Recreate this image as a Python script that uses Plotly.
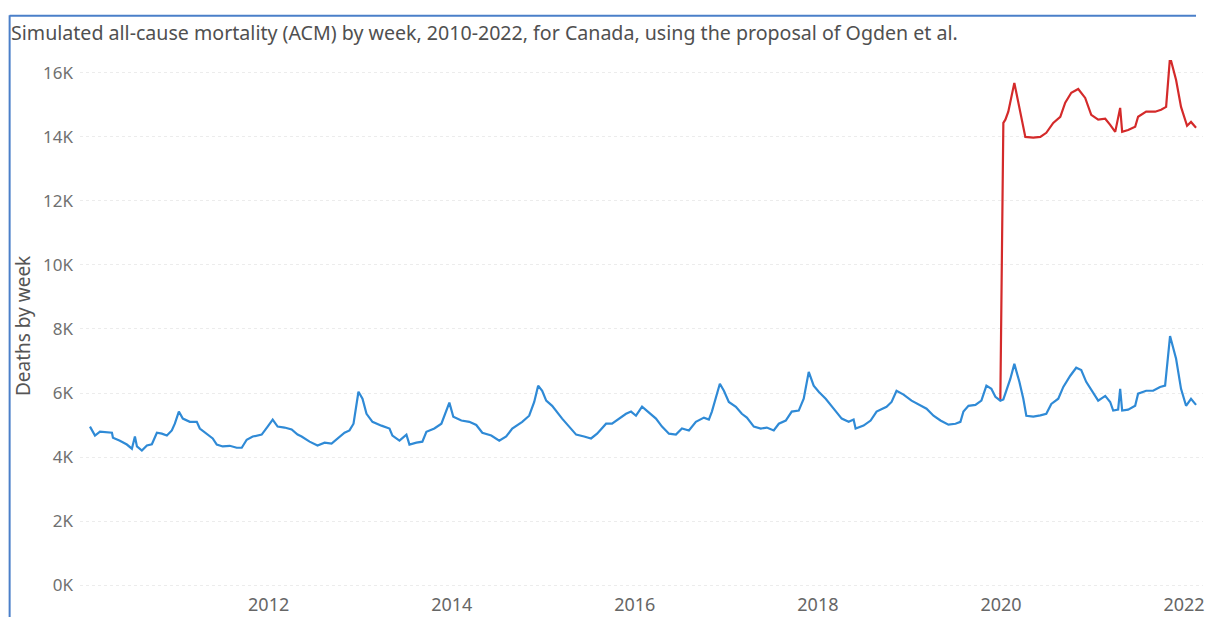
import plotly.graph_objects as go

# decimal-year time stamps and weekly deaths
blue_t = [2010.048, 2010.103, 2010.157, 2010.233, 2010.288, 2010.299, 2010.375, 2010.451, 2010.506, 2010.539,
          2010.561, 2010.615, 2010.670, 2010.724, 2010.779, 2010.833, 2010.888, 2010.942, 2010.975, 2011.019,
          2011.062, 2011.139, 2011.215, 2011.248, 2011.324, 2011.389, 2011.433, 2011.498, 2011.575, 2011.651,
          2011.706, 2011.760, 2011.826, 2011.924, 2011.989, 2012.044, 2012.098, 2012.174, 2012.251, 2012.316,
          2012.360, 2012.447, 2012.534, 2012.611, 2012.687, 2012.752, 2012.829, 2012.883, 2012.927, 2012.981,
          2013.025, 2013.069, 2013.134, 2013.232, 2013.320, 2013.352, 2013.429, 2013.505, 2013.538, 2013.614,
          2013.679, 2013.723, 2013.810, 2013.887, 2013.941, 2013.974, 2014.017, 2014.105, 2014.192, 2014.268,
          2014.334, 2014.432, 2014.519, 2014.595, 2014.661, 2014.704, 2014.770, 2014.846, 2014.901, 2014.944,
          2014.988, 2015.032, 2015.097, 2015.206, 2015.282, 2015.359, 2015.446, 2015.522, 2015.588, 2015.686,
          2015.751, 2015.849, 2015.904, 2015.959, 2016.013, 2016.079, 2016.155, 2016.231, 2016.297, 2016.373,
          2016.449, 2016.515, 2016.591, 2016.667, 2016.755, 2016.809, 2016.842, 2016.929, 2016.973, 2017.027,
          2017.104, 2017.169, 2017.224, 2017.300, 2017.376, 2017.442, 2017.518, 2017.573, 2017.649, 2017.714,
          2017.791, 2017.845, 2017.900, 2017.954, 2018.009, 2018.085, 2018.172, 2018.260, 2018.336, 2018.390,
          2018.412, 2018.499, 2018.576, 2018.641, 2018.750, 2018.805, 2018.859, 2018.936, 2019.023, 2019.121,
          2019.187, 2019.263, 2019.339, 2019.426, 2019.503, 2019.557, 2019.590, 2019.645, 2019.721, 2019.786,
          2019.841, 2019.895, 2019.939, 2019.993, 2020.026, 2020.102, 2020.146, 2020.201, 2020.244, 2020.277,
          2020.353, 2020.430, 2020.495, 2020.550, 2020.626, 2020.681, 2020.757, 2020.822, 2020.877, 2020.931,
          2021.008, 2021.062, 2021.139, 2021.193, 2021.226, 2021.280, 2021.302, 2021.324, 2021.389, 2021.466,
          2021.498, 2021.586, 2021.662, 2021.738, 2021.793, 2021.847, 2021.913, 2021.967, 2022.022, 2022.076,
          2022.131]
blue_v = [4950, 4670, 4790, 4760, 4760, 4600, 4510, 4390, 4260, 4640,
          4330, 4200, 4360, 4400, 4760, 4730, 4670, 4830, 5040, 5420,
          5200, 5100, 5100, 4890, 4730, 4580, 4390, 4330, 4350, 4290,
          4290, 4540, 4640, 4700, 4950, 5170, 4950, 4920, 4860, 4700,
          4640, 4480, 4360, 4450, 4420, 4580, 4760, 4830, 5040, 6040,
          5820, 5350, 5100, 4980, 4890, 4670, 4510, 4700, 4390, 4450,
          4480, 4790, 4890, 5040, 5420, 5700, 5260, 5140, 5100, 5000,
          4760, 4670, 4510, 4640, 4890, 4980, 5100, 5290, 5720, 6230,
          6070, 5760, 5600, 5200, 4950, 4700, 4640, 4580, 4730, 5040,
          5040, 5230, 5350, 5420, 5290, 5570, 5380, 5200, 4950, 4730,
          4700, 4890, 4830, 5100, 5230, 5170, 5420, 6290, 6070, 5720,
          5570, 5350, 5230, 4950, 4890, 4920, 4830, 5040, 5140, 5420,
          5450, 5820, 6660, 6230, 6040, 5820, 5510, 5200, 5100, 5170,
          4890, 4980, 5140, 5420, 5570, 5720, 6070, 5950, 5760, 5600,
          5510, 5290, 5140, 5010, 5040, 5100, 5420, 5600, 5630, 5760,
          6230, 6130, 5880, 5760, 5800, 6440, 6910, 6350, 5820, 5290,
          5260, 5300, 5350, 5660, 5820, 6190, 6540, 6790, 6720, 6350,
          5980, 5760, 5910, 5720, 5450, 5480, 6130, 5450, 5480, 5600,
          5980, 6070, 6070, 6190, 6230, 7780, 7070, 6130, 5600, 5820,
          5630]

red_t = [2019.993, 2020.026, 2020.048, 2020.080, 2020.146, 2020.211, 2020.266, 2020.353, 2020.430, 2020.495,
         2020.571, 2020.648, 2020.702, 2020.768, 2020.844, 2020.920, 2020.986, 2021.062, 2021.139, 2021.193,
         2021.248, 2021.302, 2021.324, 2021.389, 2021.466, 2021.498, 2021.586, 2021.684, 2021.749, 2021.804,
         2021.847, 2021.913, 2021.967, 2022.033, 2022.076, 2022.131]
red_v = [5760, 14440, 14540, 14790, 15690, 14750, 14000, 13980, 14000, 14130,
         14440, 14630, 15070, 15380, 15500, 15220, 14690, 14540, 14570, 14380,
         14160, 14910, 14160, 14220, 14320, 14630, 14790, 14790, 14850, 14940,
         16500, 15780, 14940, 14350, 14470, 14290]

year_ticks = [2012, 2014, 2016, 2018, 2020, 2022]
y_ticks = [0, 2000, 4000, 6000, 8000, 10000, 12000, 14000, 16000]
y_tick_labels = ["0K", "2K", "4K", "6K", "8K", "10K", "12K", "14K", "16K"]

fig = go.Figure()
fig.add_trace(go.Scatter(x=red_t, y=red_v, mode="lines",
                         line=dict(color="#d42a2a", width=2.2), showlegend=False))
fig.add_trace(go.Scatter(x=blue_t, y=blue_v, mode="lines",
                         line=dict(color="#2f8ad6", width=2.2), showlegend=False))

W, H = 1208, 619
L, R, T, B = 80, 3, 60, 29
pw, ph = W - L - R, H - T - B

def px_x(x):
    return (x - L) / pw

def px_y(y):
    return 1 - (y - T) / ph

fig.update_layout(
    width=W, height=H,
    margin=dict(l=L, r=R, t=T, b=B),
    paper_bgcolor="white", plot_bgcolor="white",
    font=dict(family="Noto Sans", color="#666666"),
    title=dict(text="Simulated all-cause mortality (ACM) by week, 2010-2022, for Canada, using the proposal of Ogden et al.",
               x=11 / W, xanchor="left", y=1 - 33 / H, yanchor="middle",
               font=dict(family="Noto Sans", size=19.6, color="#505050")),
    xaxis=dict(range=[2009.939, 2022.207], tickvals=year_ticks,
               ticktext=[str(v) for v in year_ticks],
               showgrid=False, zeroline=False, showline=False,
               tickfont=dict(size=18, color="#666666"), ticks="", ticklen=0,
               ticklabelstandoff=4),
    yaxis=dict(range=[-93, 16405], tickvals=y_ticks, ticktext=y_tick_labels,
               showgrid=True, gridcolor="#ececec", griddash="dot", gridwidth=1,
               zeroline=False, showline=False,
               tickfont=dict(size=17, color="#707070"), ticks="", ticklen=0,
               ticklabelstandoff=6),
)

fig.add_annotation(text="Deaths by week", xref="paper", yref="paper",
                   x=px_x(23), y=px_y(327), xanchor="center", yanchor="middle",
                   textangle=-90, showarrow=False,
                   font=dict(family="Noto Sans", size=19, color="#555555"))

# blue frame on the left and top edges
fig.add_shape(type="line", xref="paper", yref="paper",
              x0=px_x(9.5), x1=px_x(9.5), y0=px_y(15), y1=px_y(619),
              line=dict(color="#4a7fc9", width=2))
fig.add_shape(type="line", xref="paper", yref="paper",
              x0=px_x(9.5), x1=px_x(1198), y0=px_y(15.5), y1=px_y(15.5),
              line=dict(color="#4a7fc9", width=2))

fig.write_html("out.html")
